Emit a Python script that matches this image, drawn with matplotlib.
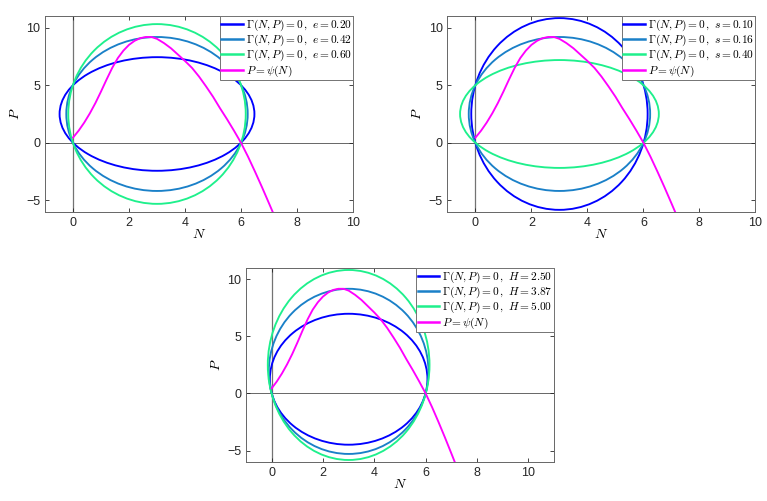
import matplotlib
matplotlib.use("Agg")
import matplotlib.pyplot as plt
from matplotlib.patches import Ellipse
from matplotlib.lines import Line2D

plt.rcParams['font.family'] = ['Liberation Sans', 'DejaVu Sans']
plt.rcParams['mathtext.fontset'] = 'cm'

# P = psi(N) (same curve in every panel)
psi_N = [0.0, 0.2, 0.4, 0.6, 0.8, 1.0, 1.2, 1.4, 1.6, 1.8, 2.0, 2.2, 2.4, 2.6,
         2.8, 3.0, 3.25, 3.5, 3.75, 4.0, 4.25, 4.5, 4.75, 5.0, 5.25, 5.5,
         5.75, 6.0, 6.25, 6.5, 6.75, 7.0, 7.15]
psi_P = [0.45, 1.05, 1.75, 2.55, 3.45, 4.45, 5.5, 6.5, 7.35, 8.0, 8.5, 8.85,
         9.08, 9.18, 9.18, 9.02, 8.65, 8.2, 7.65, 7.1, 6.5, 5.75, 4.9, 4.0,
         3.0, 2.05, 1.05, 0.0, -1.2, -2.5, -3.85, -5.25, -6.1]

# Gamma(N, P) = 0 curves, one ellipse per parameter value
e_vals = [0.20, 0.42, 0.60]
e_centerP = [2.5, 2.5, 2.5]
e_halfw = [3.48, 3.24, 3.17]
e_halfh = [4.93, 6.68, 7.80]

s_vals = [0.10, 0.16, 0.40]
s_centerP = [2.5, 2.5, 2.5]
s_halfw = [3.15, 3.24, 3.55]
s_halfh = [8.32, 6.68, 4.68]

H_vals = [2.50, 3.87, 5.00]
H_centerP = [1.25, 1.94, 2.50]
H_halfw = [3.07, 3.11, 3.15]
H_halfh = [5.74, 7.24, 8.33]

centerN = 3.0
colours = ['#0000ff', '#1a80c8', '#1ef08c']
psi_colour = '#ff00ff'
lw = 1.35


def panel(ax, sym, vals, centerP, halfw, halfh, xmax):
    ax.axhline(0, color='0.3', lw=0.6, zorder=1)
    ax.axvline(0, color='0.45', lw=0.9, zorder=1)
    handles, labels = [], []
    for v, cp, a, b, c in zip(vals, centerP, halfw, halfh, colours):
        ax.add_patch(Ellipse((centerN, cp), 2 * a, 2 * b, fill=False,
                             edgecolor=c, lw=lw, zorder=2))
        handles.append(Line2D([], [], color=c, lw=1.8))
        labels.append(r'$\Gamma(N,P)=0\,,\ %s=%.2f$' % (sym, v))
    ax.plot(psi_N, psi_P, color=psi_colour, lw=lw, zorder=3)
    handles.append(Line2D([], [], color=psi_colour, lw=1.8))
    labels.append(r'$P=\psi(N)$')

    ax.set_xlim(-1, xmax)
    ax.set_ylim(-6, 11)
    ax.set_xticks(range(0, 11, 2))
    ax.set_yticks([-5, 0, 5, 10])
    ax.tick_params(direction='in', top=True, right=True, length=3,
                   labelsize=9, colors='0.15', width=0.6)
    for sp in ax.spines.values():
        sp.set_color('0.4')
        sp.set_linewidth(0.7)
    ax.set_xlabel('$N$', fontsize=10, labelpad=-1)
    ax.set_ylabel('$P$', fontsize=10, labelpad=3)
    leg = ax.legend(handles, labels, loc='upper right', fontsize=8.2,
                    borderaxespad=0, fancybox=False, framealpha=1,
                    edgecolor='0.45', handlelength=1.9, handletextpad=0.25,
                    labelspacing=0.0, borderpad=0.12)
    leg.get_frame().set_linewidth(0.7)


fig = plt.figure(figsize=(7.67, 5.01), dpi=100)
ax1 = fig.add_axes([0.0587, 0.577, 0.4015, 0.391])
ax2 = fig.add_axes([0.5834, 0.577, 0.4015, 0.391])
ax3 = fig.add_axes([0.3207, 0.078, 0.4016, 0.387])

panel(ax1, 'e', e_vals, e_centerP, e_halfw, e_halfh, 10)
panel(ax2, 's', s_vals, s_centerP, s_halfw, s_halfh, 10)
panel(ax3, 'H', H_vals, H_centerP, H_halfw, H_halfh, 11)

fig.savefig('out.png', dpi=100)
